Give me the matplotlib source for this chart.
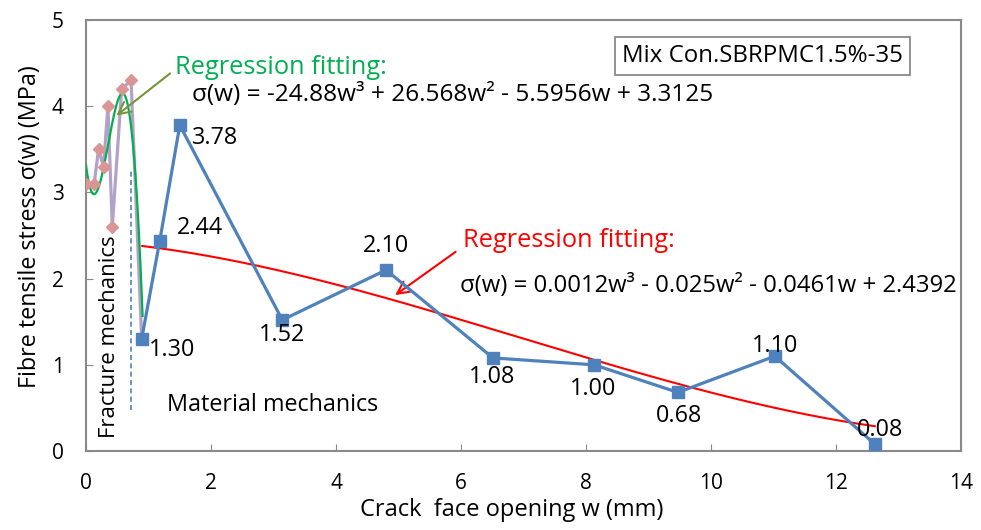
import numpy as np
import matplotlib
matplotlib.use("Agg")
import matplotlib.pyplot as plt

plt.rcParams['font.family'] = ['Open Sans', 'DejaVu Sans']

# Material mechanics series (blue squares)
w_mat = [0.89, 1.18, 1.50, 3.14, 4.80, 6.51, 8.13, 9.47, 11.02, 12.62]
s_mat = [1.30, 2.44, 3.78, 1.52, 2.10, 1.08, 1.00, 0.68, 1.10, 0.08]
lbl_mat = ["1.30", "2.44", "3.78", "1.52", "2.10", "1.08", "1.00", "0.68", "1.10", "0.08"]

# Fracture mechanics series (pink diamonds)
w_frac = [0.00, 0.13, 0.20, 0.28, 0.35, 0.42, 0.57, 0.72]
s_frac = [3.10, 3.10, 3.50, 3.30, 4.00, 2.60, 4.20, 4.30]

# Regression coefficients
green_coef = [-24.88, 26.568, -5.5956, 3.3125]
red_coef = [0.0012, -0.025, -0.0461, 2.4392]
green_range = (0.0, 0.905)
red_range = (0.90, 12.62)

xticks = [0, 2, 4, 6, 8, 10, 12, 14]
yticks = [0, 1, 2, 3, 4, 5]

blue = '#4F81BD'
pink = '#D99694'
lav = '#B3A2C7'
green = '#00B050'
red = '#FF0000'
olive = '#77933C'
gray = '#898989'

fig = plt.figure(figsize=(9.81, 5.30), dpi=100)
ax = fig.add_axes([0.0877, 0.149, 0.892, 0.8133])

# purple connecting line for fracture series (continues to first material point)
ax.plot(w_frac + [w_mat[0]], s_frac + [s_mat[0]], color=lav, lw=2.3, zorder=2)
ax.plot(w_frac, s_frac, ls='none', marker='D', ms=6.5, color=pink, zorder=4)

# green regression
wg = np.linspace(*green_range, 200)
ax.plot(wg, np.polyval(green_coef, wg), color=green, lw=1.6, zorder=3)

# red regression
wr = np.linspace(*red_range, 300)
ax.plot(wr, np.polyval(red_coef, wr), color=red, lw=1.5, zorder=3)

# blue series
ax.plot(w_mat, s_mat, color=blue, lw=2.3, marker='s', ms=8.5, zorder=5)

# data labels (offsets in pixels -> points)
fs = 16.8
offsets_px = [(30, -11), (40, 13), (35, -13), (0, -15), (0, 24), (-1, -19), (-1, -24), (1, -24), (0, 10), (5, 14)]
for x, y, t, (dx, dy) in zip(w_mat, s_mat, lbl_mat, offsets_px):
    ax.annotate(t, (x, y), xytext=(dx * 0.72, dy * 0.72), textcoords='offset points',
                fontsize=fs, ha='center', va='center', zorder=6)

# dashed divider
ax.plot([0.72, 0.72], [0.48, 3.25], color=blue, lw=1.2, ls=(0, (3, 2)), zorder=2)

ax.text(0.38, 0.15, "Fracture mechanics", rotation=90, fontsize=16,
        ha='center', va='bottom', zorder=6)
ax.text(1.29, 0.53, "Material mechanics", fontsize=fs, ha='left', va='center')

ax.text(1.42, 4.45, "Regression fitting:", fontsize=18.3, color=green, ha='left', va='center')
ax.text(1.69, 4.13, "σ(w) = -24.88w³ + 26.568w² - 5.5956w + 3.3125",
        fontsize=17.6, ha='left', va='center')
ax.annotate("", xy=(0.45, 3.87), xytext=(1.38, 4.40),
            arrowprops=dict(arrowstyle='->', color=olive, lw=1.5, mutation_scale=22))

ax.text(6.03, 2.44, "Regression fitting:", fontsize=18.3, color=red, ha='left', va='center')
ax.text(5.98, 1.92, "σ(w) = 0.0012w³ - 0.025w² - 0.0461w + 2.4392",
        fontsize=17.2, ha='left', va='center')
ax.annotate("", xy=(4.91, 1.79), xytext=(5.95, 2.33),
            arrowprops=dict(arrowstyle='->', color=red, lw=1.5, mutation_scale=22))

ax.text(10.82, 4.58, "Mix Con.SBRPMC1.5%-35", fontsize=17.3, ha='center', va='center',
        bbox=dict(boxstyle='square,pad=0.3', fc='white', ec=gray, lw=1.3))

ax.set_xlim(0, 14)
ax.set_ylim(0, 5)
ax.set_xticks(xticks)
ax.set_yticks(yticks)
ax.tick_params(direction='in', length=5, color=gray, labelsize=15)
ax.tick_params(axis='x', pad=15.5)
ax.tick_params(axis='y', pad=16)
for sp in ax.spines.values():
    sp.set_color(gray)
    sp.set_linewidth(1.5)
ax.set_xlabel("Crack  face opening w (mm)", fontsize=17, va='center')
ax.xaxis.set_label_coords(0.487, -0.137)
ax.set_ylabel("Fibre tensile stress σ(w) (MPa)", fontsize=16.8, va='center')
ax.yaxis.set_label_coords(-0.064, 0.52)

fig.savefig("out.png", dpi=100)
